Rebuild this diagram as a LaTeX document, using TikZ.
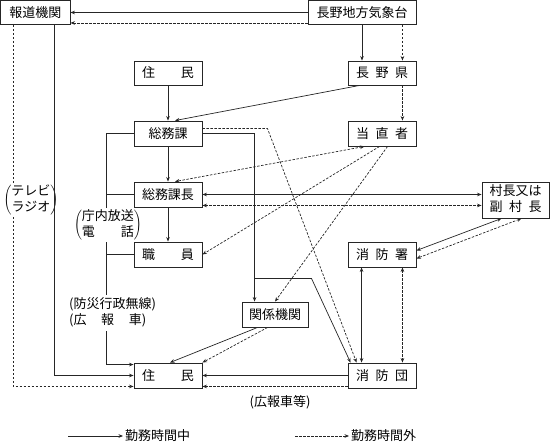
\documentclass[tikz,border=0pt]{standalone}
\usepackage{fontspec}
\setmainfont{Noto Sans CJK JP}
\usetikzlibrary{calc,arrows.meta}
\pgfdeclarelayer{bglines}
\pgfdeclarelayer{labels}
\pgfsetlayers{bglines,labels,main}
\newcommand\jfs{\fontsize{13}{16}\selectfont}
\newcommand\spr[2]{\makebox[#1][s]{#2}}
\begin{document}
\begin{tikzpicture}[x=1pt,y=-1pt,
  >={Stealth[length=4.5pt,width=3.6pt]},
  box/.style={draw=black!85,line width=0.9pt,inner sep=0pt,minimum width=68pt,minimum height=25pt,font=\jfs},
  lbl/.style={inner sep=1pt,font=\jfs,fill=white},
  sol/.style={draw=black!85,line width=0.7pt},
  dsh/.style={draw=black!85,line width=0.7pt,dash pattern=on 2.5pt off 1.5pt}]
\useasboundingbox (0,0) rectangle (550,444);

% boxes
\node[box,minimum width=69.5pt,minimum height=24pt] (hodo) at (35.25,12.5) {報道機関};
\node[box,minimum width=108pt,minimum height=24pt] (kishou) at (362,12.5) {長野地方気象台};
\node[box,minimum height=24pt] (nagano) at (382,73) {\spr{52pt}{長\hfill 野\hfill 県}};
\node[box] (tochoku) at (382,133.5) {\spr{52pt}{当\hfill 直\hfill 者}};
\node[box,minimum height=24pt] (jumin1) at (168,73) {\spr{52pt}{住\hfill 民}};
\node[box] (somuka) at (168,133.5) {総務課};
\node[box] (kacho) at (168,194.5) {総務課長};
\node[box] (shokuin) at (168,254.5) {\spr{52pt}{職\hfill 員}};
\node[box,minimum width=67pt,minimum height=36pt,align=center] (soncho) at (515.5,200)
  {\begin{tabular}{@{}c@{}}村長又は\\\spr{52pt}{副\hfill 村\hfill 長}\end{tabular}};
\node[box] (shobosho) at (382,254.5) {\spr{52pt}{消\hfill 防\hfill 署}};
\node[box,minimum width=66pt] (kankei) at (275,314.5) {関係機関};
\node[box] (jumin2) at (168,375.5) {\spr{52pt}{住\hfill 民}};
\node[box] (shobodan) at (382,375.5) {\spr{52pt}{消\hfill 防\hfill 団}};

\coordinate (kd) at ($(kacho.south east)+(0,-2)$);

\begin{pgfonlayer}{bglines}
\draw[sol,->] (kishou.west) -- (hodo.east);
\draw[dsh,->] ($(kishou.south west)+(0,-2)$) -- ($(hodo.south east)+(0,-2)$);
\draw[sol,->] (kishou.south) -- (kishou.south |- nagano.north);
\draw[dsh,->] ($(kishou.south east)+(-14,0)$) -- ($(nagano.north east)+(-14,0)$);
\draw[dsh,->] ($(nagano.south east)+(-14,0)$) -- ($(tochoku.north east)+(-14,0)$);
\draw[sol,->] ($(nagano.south west)+(12,0)$) -- ($(somuka.north)+(7,0)$);
\draw[sol,->] (jumin1) -- (somuka);
\draw[sol,->] (somuka) -- (kacho);
\draw[sol,->] (kacho) -- (shokuin);
% dashed from hodo
\draw[dsh,->] ($(hodo.south west)+(13,0)$) |- ($(jumin2.south west)+(0,-2)$);
% left bus
\draw[sol,->] (somuka.west) -- ++(-27,0) |- ($(jumin2.north west)+(0,2)$);
\draw[sol] (kacho.west) -- ++(-27,0);
\draw[sol] (shokuin.west) -- ++(-27,0);
% right bus
\draw[sol,->] (somuka.east) -| ($(kankei.north west)+(13,0)$);
\draw[sol,->] ($(kankei.north west)+(13,-23)$) -- ++(57,0) -- ($(shobodan.north west)+(3,0)$);
\draw[dsh,->] ($(somuka.east)+(0,-5)$) -- ++(65,0) -- ($(shobodan.north west)+(9,0)$);
% tochoku
\draw[dsh,<->] ($(tochoku.south west)+(17,0)$) -- ($(kacho.north)+(7,0)$);
\draw[dsh,->] ($(tochoku.south west)+(32,0)$) -- (shokuin.east);
\draw[dsh,->] ($(tochoku.south west)+(40,0)$) -- (kankei.north);
% soncho
\draw[sol,<->] (kacho.east) -- (kacho.east -| soncho.west);
\draw[dsh,<->] (kd) -- (kd -| soncho.west);
\draw[sol,<->] ($(soncho.south west)+(20,0)$) -- ($(shobosho.east)+(0,-4)$);
\draw[dsh,<->] ($(soncho.south west)+(40,0)$) -- ($(shobosho.east)+(0,4)$);
\draw[sol,<->] ($(shobosho.south west)+(14,0)$) -- ($(shobodan.north west)+(14,0)$);
\draw[dsh,<->] ($(shobosho.south east)+(-14,0)$) -- ($(shobodan.north east)+(-14,0)$);
\draw[sol,->] (shobodan.west) -- (jumin2.east);
\draw[dsh,->] ($(shobodan.south west)+(0,-2)$) -- ($(jumin2.south east)+(0,-2)$);
\draw[sol,->] ($(kankei.south west)+(16,0)$) -- ($(jumin2.north)+(2,0)$);
\draw[dsh,->] ($(kankei.south west)+(26,0)$) -- (jumin2.north east);
\end{pgfonlayer}

\begin{pgfonlayer}{labels}
\node[lbl] (tv) at (31,200) {$\left(\begin{tabular}{@{}c@{}}テレビ\\ラジオ\end{tabular}\right)$};
\node[lbl] (chonai) at (108,225) {$\left(\begin{tabular}{@{}c@{}}庁内放送\\\spr{52pt}{電\hfill 話}\end{tabular}\right)$};
\node[lbl,anchor=west,inner sep=2pt] (bosai) at (67,313)
  {\begin{tabular}{@{}l@{}}(防災行政無線)\\\spr{77pt}{(広\hfill 報\hfill 車)}\end{tabular}};
\end{pgfonlayer}
\node[font=\jfs] (kouhou) at (280,402) {(広報車等)};

% solid from hodo (over the label)
\draw[sol,->] ($(hodo.south west)+(54,0)$) |- (jumin2.west);

% legend
\coordinate (ls1) at (68,436);
\node[font=\jfs,anchor=west,inner sep=2pt] (lt1) at (123,436) {勤務時間中};
\draw[sol,->] (ls1) -- (lt1.west);
\coordinate (ls2) at (295,436);
\node[font=\jfs,anchor=west,inner sep=2pt] (lt2) at (349,436) {勤務時間外};
\draw[dsh,->] (ls2) -- (lt2.west);
\end{tikzpicture}
\end{document}
